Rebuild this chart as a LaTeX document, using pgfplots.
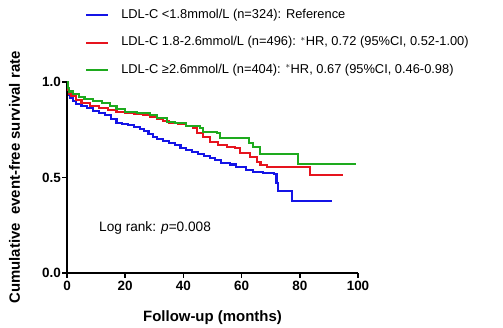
\documentclass[border=0pt]{standalone}
\usepackage{pgfplots}
\pgfplotsset{compat=1.18}
\usepackage{fontspec}
\setmainfont{Liberation Sans}
\definecolor{kmblue}{RGB}{20,20,230}
\definecolor{kmred}{RGB}{230,20,30}
\definecolor{kmgreen}{RGB}{30,170,30}
\begin{document}
\begin{tikzpicture}
\begin{axis}[
  scale only axis, width=291bp, height=191bp,
  xmin=0, xmax=100, ymin=0, ymax=1,
  axis x line*=bottom, axis y line*=left,
  axis line style={-, line width=1.8bp},
  xtick={0,20,40,60,80,100}, ytick={0,0.5,1},
  tick align=outside, major tick length=4.5bp,
  tick style={line width=1.5bp, black},
  /pgf/number format/assume math mode=true,
  yticklabel style={/pgf/number format/fixed, /pgf/number format/fixed zerofill, /pgf/number format/precision=1, inner xsep=1.5bp},
  tick label style={font=\fontsize{13.5}{15}\selectfont\bfseries},
  xlabel={Follow-up (months)},
  every axis x label/.style={at={(axis description cs:0.5,0)}, anchor=center, yshift=-45bp, font=\fontsize{15}{17}\selectfont\bfseries},
  ylabel={Cumulative\ \ event-free survival rate},
  every axis y label/.style={at={(axis description cs:-0.18,0.5)}, anchor=center, rotate=90, font=\fontsize{15}{17}\selectfont\bfseries},
  legend style={at={(axis description cs:0.062,1.383)}, anchor=north west, draw=none, fill=none, inner sep=0pt,
    font=\fontsize{12.9}{14}\selectfont, row sep=15.5bp, nodes={inner sep=0pt, text height=9bp, text depth=3bp}},
  legend cell align=left,
  legend image code/.code={\draw[#1, line width=2bp] (0bp,0bp) -- (22bp,0bp); \path (34bp,0bp);},
  every axis plot/.append style={line width=2.1bp, const plot},
]
\addplot[kmblue] coordinates {
(0,1.0) (0.3,0.96) (0.6,0.93) (1,0.915) (2,0.9) (3,0.885) (5,0.875) (7,0.865) (9,0.85) (11,0.84) (13,0.825) (15,0.805) (17,0.785) (19,0.78) (21,0.775) (23,0.765) (25,0.755) (26.5,0.745) (28,0.73) (29.5,0.71) (31,0.7) (33,0.69) (35,0.68) (37,0.668) (39,0.655) (41,0.645) (43,0.632) (45,0.622) (47,0.612) (49,0.6) (51,0.59) (53,0.578) (56,0.568) (58,0.556) (61.5,0.54) (64,0.53) (67.5,0.524) (71,0.518) (72,0.473) (72.5,0.431) (77.2,0.377) (91,0.377)};
\addlegendentry{LDL-C <1.8mmol/L (n=324): Reference}
\addplot[kmred] coordinates {
(0,1.0) (0.3,0.96) (0.6,0.94) (1.5,0.925) (3,0.905) (5,0.89) (8,0.875) (11,0.862) (14,0.852) (17,0.845) (20,0.84) (23,0.835) (26,0.825) (28.5,0.818) (31,0.805) (33,0.795) (35,0.785) (38,0.78) (41,0.77) (43.4,0.757) (44.6,0.731) (46.8,0.714) (49.1,0.687) (52,0.67) (54.9,0.661) (57.7,0.653) (59.5,0.627) (62.9,0.609) (65.2,0.583) (66.5,0.565) (68.6,0.556) (83.5,0.512) (95,0.512)};
\addlegendentry{LDL-C 1.8-2.6mmol/L (n=496): $^{*}$HR, 0.72 (95\%CI, 0.52-1.00)}
\addplot[kmgreen] coordinates {
(0,1.0) (0.3,0.97) (0.6,0.95) (2,0.935) (4,0.92) (6,0.91) (9,0.9) (12,0.89) (14.7,0.872) (17,0.86) (20,0.845) (24,0.838) (28.6,0.827) (31,0.81) (34.4,0.792) (37,0.785) (41,0.77) (45.7,0.757) (46.8,0.74) (51.4,0.731) (52.6,0.705) (61.7,0.705) (62.5,0.679) (64,0.661) (66.3,0.623) (79.4,0.571) (99.3,0.571)};
\addlegendentry{LDL-C ≥2.6mmol/L (n=404): $^{*}$HR, 0.67 (95\%CI, 0.46-0.98)}
\node[anchor=west, font=\fontsize{13.7}{15}\selectfont, inner sep=0pt] at (axis cs:11,0.235) {Log rank: \textit{p}=0.008};
\end{axis}
\pgfresetboundingbox
\path (-67bp,-55bp) rectangle (436bp,273bp);
\end{tikzpicture}
\end{document}
